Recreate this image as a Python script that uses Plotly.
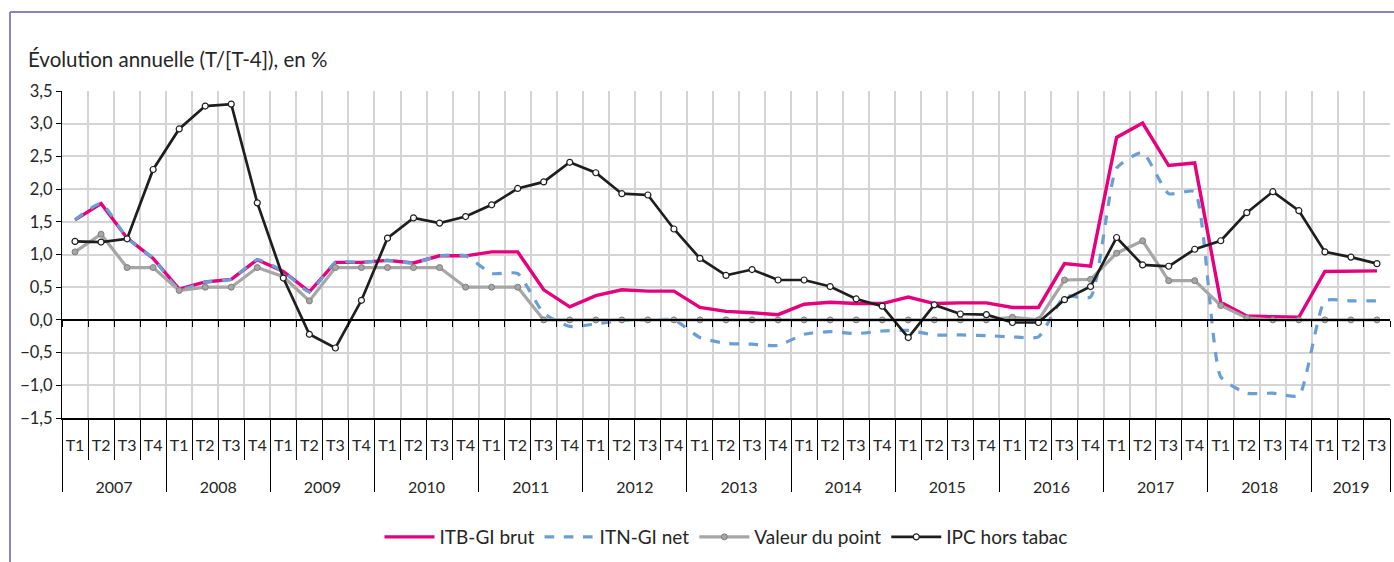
import plotly.graph_objects as go

years = ["2007", "2008", "2009", "2010", "2011", "2012", "2013",
         "2014", "2015", "2016", "2017", "2018", "2019"]
quarters = ["T1", "T2", "T3", "T4"]

itb_brut = [1.53, 1.78, 1.25, 0.94, 0.47, 0.58, 0.62, 0.92,
            0.74, 0.43, 0.88, 0.88, 0.91, 0.87, 0.98, 0.98,
            1.04, 1.04, 0.46, 0.20, 0.37, 0.46, 0.44, 0.44,
            0.19, 0.13, 0.11, 0.08, 0.24, 0.27, 0.25, 0.25,
            0.35, 0.25, 0.26, 0.26, 0.19, 0.19, 0.86, 0.82,
            2.79, 3.01, 2.36, 2.40, 0.27, 0.06, 0.05, 0.04,
            0.74, 0.75, 0.75]
itn_net = [1.53, 1.78, 1.25, 0.94, 0.47, 0.58, 0.62, 0.92,
           0.74, 0.43, 0.88, 0.88, 0.91, 0.87, 0.98, 0.98,
           0.71, 0.71, 0.10, -0.10, -0.06, -0.01, 0.00, 0.00,
           -0.27, -0.36, -0.37, -0.39, -0.22, -0.18, -0.21, -0.17,
           -0.16, -0.23, -0.23, -0.24, -0.26, -0.26, 0.36, 0.35,
           2.32, 2.56, 1.93, 1.96, -0.87, -1.12, -1.12, -1.16,
           0.29, 0.29, 0.29]
valeur_point = [1.04, 1.31, 0.80, 0.80, 0.45, 0.50, 0.50, 0.80,
                0.66, 0.29, 0.80, 0.80, 0.80, 0.80, 0.80, 0.50,
                0.50, 0.50, 0.00, 0.00, 0.00, 0.00, 0.00, 0.00,
                0.00, 0.00, 0.00, 0.00, 0.00, 0.00, 0.00, 0.00,
                0.00, 0.00, 0.00, 0.00, 0.04, 0.00, 0.61, 0.62,
                1.02, 1.21, 0.60, 0.60, 0.22, 0.03, 0.00, 0.00,
                0.00, 0.00, 0.00]
ipc_hors_tabac = [1.20, 1.19, 1.24, 2.30, 2.92, 3.27, 3.30, 1.79,
                  0.64, -0.22, -0.43, 0.30, 1.25, 1.56, 1.48, 1.58,
                  1.76, 2.01, 2.11, 2.41, 2.25, 1.93, 1.91, 1.39,
                  0.94, 0.68, 0.77, 0.61, 0.61, 0.51, 0.32, 0.21,
                  -0.27, 0.23, 0.09, 0.08, -0.04, -0.04, 0.31, 0.51,
                  1.26, 0.84, 0.82, 1.08, 1.21, 1.64, 1.96, 1.67,
                  1.04, 0.96, 0.86]

n = len(itb_brut)
# category bookkeeping: each point is one quarter of one year
x_year, x_quarter = [], []
for y in years:
    for q in quarters:
        if len(x_year) < n:
            x_year.append(y)
            x_quarter.append(q)
xpos = list(range(n))                       # category slots
bounds = [i - 0.5 for i in range(n + 1)]    # category boundaries
year_centers, year_bounds = [], [-0.5]
for y in years:
    idx = [i for i in xpos if x_year[i] == y]
    year_centers.append(sum(idx) / len(idx))
    year_bounds.append(idx[-1] + 0.5)

FONT = "Lato"
TXT = "#262626"

fig = go.Figure()
fig.add_trace(go.Scatter(x=xpos, y=itb_brut, name="ITB-GI brut", mode="lines",
                         line=dict(color="#E5007E", width=3.4)))
fig.add_trace(go.Scatter(x=xpos, y=itn_net, name="ITN-GI net", mode="lines",
                         line=dict(color="#6A9FD5", width=3.2, dash="dash",
                                   shape="spline", smoothing=0.5)))
fig.add_trace(go.Scatter(x=xpos, y=valeur_point, name="Valeur du point", mode="lines+markers",
                         line=dict(color="#A6A6A6", width=3.2),
                         marker=dict(symbol="circle", size=6, color="#A6A6A6",
                                     line=dict(color="#7F7F7F", width=1))))
fig.add_trace(go.Scatter(x=xpos, y=ipc_hors_tabac, name="IPC hors tabac", mode="lines+markers",
                         line=dict(color="#1E1E1E", width=2.7),
                         marker=dict(symbol="circle", size=6, color="white",
                                     line=dict(color="#1E1E1E", width=1.2))))
# invisible helper traces for the auxiliary axes
for ax in ("x2", "x3"):
    fig.add_trace(go.Scatter(x=xpos, y=[None] * n, xaxis=ax, yaxis="y",
                             showlegend=False, hoverinfo="skip", mode="lines"))

W, H = 1394, 562
ml, mr, mt, mb = 62, 4, 91, 144
ymin, ymax = -1.5, 3.5
ph = H - mt - mb
pw = W - ml - mr
xr = [-0.5, n - 0.5]

fig.update_layout(
    width=W, height=H,
    margin=dict(l=ml, r=mr, t=mt, b=mb, autoexpand=False),
    paper_bgcolor="white", plot_bgcolor="white",
    separators=", ",
    font=dict(family=FONT, size=16, color=TXT),
    title=dict(text="Évolution annuelle (T/[T-4]), en %", x=28 / W, xanchor="left",
               y=1 - 60 / H, yanchor="middle", font=dict(family=FONT, size=20.5, color=TXT)),
    showlegend=True,
    legend=dict(orientation="h", x=0.5, xanchor="center", y=-(537 - (H - mb)) / ph,
                yanchor="middle", font=dict(family=FONT, size=19, color=TXT),
                itemwidth=50, tracegroupgap=0),
    # quarter labels, quarter boundary ticks and vertical gridlines
    xaxis=dict(range=xr, autorange=False, tickmode="array", tickvals=xpos, ticktext=x_quarter,
               ticks="", showgrid=False, zeroline=False, ticklabelstandoff=12,
               showline=True, linecolor="black", linewidth=1.5,
               tickfont=dict(family=FONT, size=16, color=TXT),
               minor=dict(tickmode="array", tickvals=bounds, ticks="outside", ticklen=40,
                          tickcolor="black", tickwidth=1, showgrid=True,
                          gridcolor="#D4D4D4", gridwidth=1.6),
               automargin=False),
    # tick marks along the zero line
    xaxis2=dict(overlaying="x", anchor="free", position=(0 - ymin) / (ymax - ymin),
                range=xr, autorange=False, tickmode="array", tickvals=bounds,
                ticks="outside", ticklen=6, tickcolor="black", showticklabels=False,
                showgrid=False, zeroline=False, showline=True, linecolor="black", linewidth=1.5),
    # year labels and year dividers
    xaxis3=dict(overlaying="x", anchor="y", side="bottom", range=xr, autorange=False,
                tickmode="array", tickvals=year_centers, ticktext=years, ticks="",
                ticklabelstandoff=58, showgrid=False, zeroline=False, showline=False,
                tickfont=dict(family=FONT, size=16, color=TXT),
                minor=dict(tickmode="array", tickvals=year_bounds, ticks="outside", ticklen=73,
                           tickcolor="black", tickwidth=1, showgrid=False)),
    yaxis=dict(range=[ymin, ymax], dtick=0.5, tick0=0, tickformat=".1f",
               showgrid=True, gridcolor="#D4D4D4", gridwidth=1.6, zeroline=False,
               showline=True, linecolor="black", linewidth=1.2, ticks="outside", ticklen=5,
               tickcolor="black", tickfont=dict(family=FONT, size=16.5, color=TXT),
               automargin=False),
)

# outer purple frame (top and left edges visible)
fx = -(ml - 10) / pw
fy = 1 + (mt - 12) / ph
fig.add_shape(type="line", xref="paper", yref="paper",
              x0=fx, x1=1 + mr / pw, y0=fy, y1=fy,
              line=dict(color="#8E82C4", width=2))
fig.add_shape(type="line", xref="paper", yref="paper",
              x0=fx, x1=fx, y0=fy, y1=-mb / ph,
              line=dict(color="#8E82C4", width=2))

fig.write_html("out.html", config={"displayModeBar": False},
               post_script="document.body.style.margin='0';")
